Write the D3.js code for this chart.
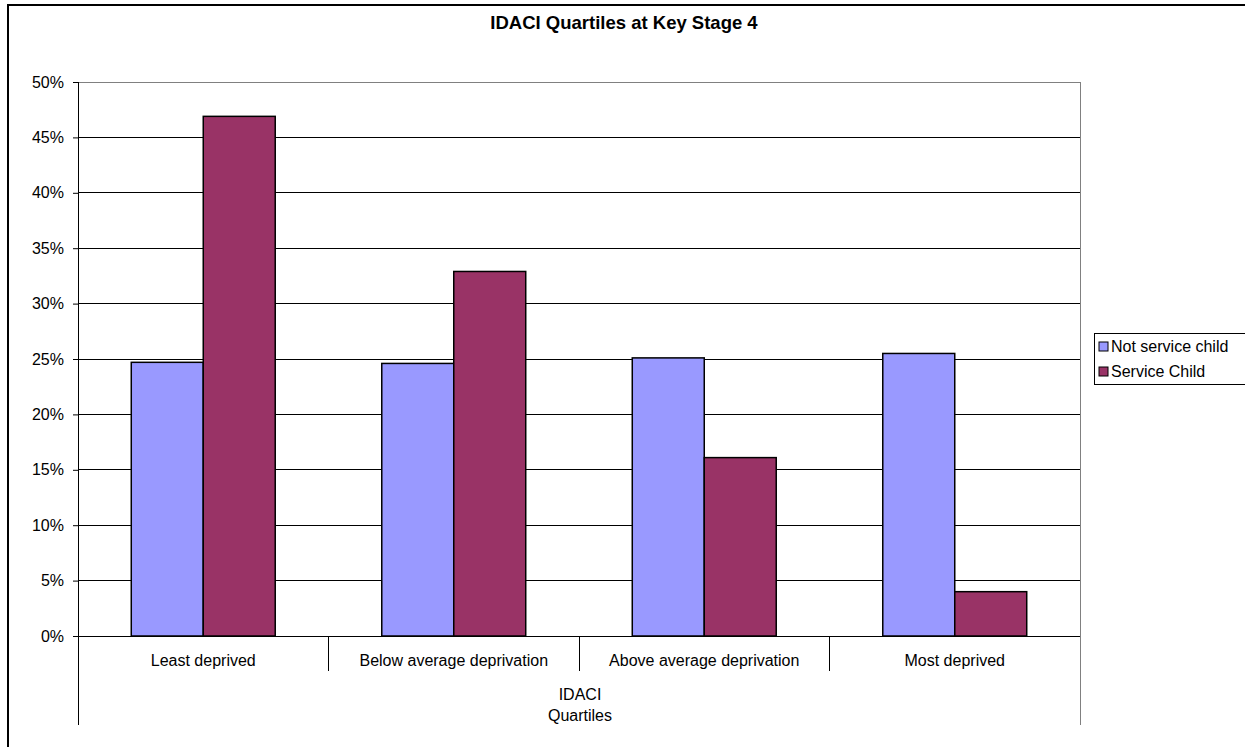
<!DOCTYPE html>
<html>
<head>
<meta charset="utf-8">
<script src="https://cdn.jsdelivr.net/npm/d3@7"></script>
<style>
  body { margin: 0; background: #fff; }
  text { font-family: "Liberation Sans", Arial, sans-serif; fill: #000; }
</style>
</head>
<body>
<div id="chart"></div>
<script>
const categories = ["Least deprived", "Below average deprivation", "Above average deprivation", "Most deprived"];
const seriesNames = ["Not service child", "Service Child"];
const notService = [24.7, 24.6, 25.1, 25.5];
const service = [46.9, 32.9, 16.1, 4.0];
const yTicks = [0, 5, 10, 15, 20, 25, 30, 35, 40, 45, 50];
const colors = ["#9999ff", "#993366"];

const width = 1245, height = 747;
const plot = { left: 78, right: 1080, top: 82, bottom: 636 };

const svg = d3.select("#chart").append("svg")
    .attr("width", width)
    .attr("height", height);

// outer chart frame (runs off the picture at right and bottom)
svg.append("rect")
    .attr("x", 8).attr("y", 5)
    .attr("width", 1300).attr("height", 800)
    .attr("fill", "none")
    .attr("stroke", "#000")
    .attr("stroke-width", 2);

svg.append("text")
    .attr("x", 624).attr("y", 29)
    .attr("text-anchor", "middle")
    .style("font-size", "18.5px")
    .style("font-weight", "bold")
    .text("IDACI Quartiles at Key Stage 4");

const x = d3.scaleBand()
    .domain(categories)
    .range([plot.left, plot.right]);

const x1 = d3.scaleBand()
    .domain(seriesNames)
    .range([0, x.bandwidth()])
    .paddingOuter(0.74)
    .paddingInner(0);

const y = d3.scaleLinear()
    .domain([0, 50])
    .range([plot.bottom, plot.top]);

// gridlines
svg.append("g")
    .selectAll("line")
    .data(yTicks.filter(d => d > 0))
    .join("line")
    .attr("x1", plot.left).attr("x2", plot.right)
    .attr("y1", d => y(d)).attr("y2", d => y(d))
    .attr("stroke", "#000")
    .attr("stroke-width", 1)
    .attr("shape-rendering", "crispEdges");

// plot area border top/right (gray)
svg.append("path")
    .attr("d", `M${plot.left},${plot.top}H${plot.right}V725`)
    .attr("fill", "none")
    .attr("stroke", "#808080")
    .attr("shape-rendering", "crispEdges");

// bars
const data = categories.map((c, i) => ({ cat: c, values: [notService[i], service[i]] }));
const groups = svg.append("g")
    .selectAll("g")
    .data(data)
    .join("g")
    .attr("transform", d => `translate(${x(d.cat)},0)`);

groups.selectAll("rect")
    .data(d => d.values.map((v, j) => ({ name: seriesNames[j], value: v, j })))
    .join("rect")
    .attr("x", d => x1(d.name))
    .attr("y", d => y(d.value))
    .attr("width", x1.bandwidth())
    .attr("height", d => y(0) - y(d.value))
    .attr("fill", d => colors[d.j])
    .attr("stroke", "#000")
    .attr("stroke-width", 1.5);

// y axis
const yAxis = svg.append("g")
    .attr("transform", `translate(${plot.left},0)`)
    .call(d3.axisLeft(y).tickValues(yTicks).tickSize(5).tickFormat(d => d + "%"));
yAxis.select(".domain").remove();
yAxis.selectAll(".tick line").attr("stroke", "#000");
yAxis.selectAll(".tick text")
    .attr("x", -14)
    .style("font-size", "16px")
    .style("font-family", "Liberation Sans, Arial, sans-serif");

svg.append("line")
    .attr("x1", plot.left).attr("x2", plot.left)
    .attr("y1", plot.top).attr("y2", 725)
    .attr("stroke", "#000")
    .attr("shape-rendering", "crispEdges");

// x axis line and category separators
svg.append("line")
    .attr("x1", plot.left).attr("x2", plot.right)
    .attr("y1", plot.bottom).attr("y2", plot.bottom)
    .attr("stroke", "#000")
    .attr("shape-rendering", "crispEdges");

svg.append("g")
    .selectAll("line")
    .data(categories.slice(1))
    .join("line")
    .attr("x1", d => x(d)).attr("x2", d => x(d))
    .attr("y1", plot.bottom).attr("y2", 671)
    .attr("stroke", "#000")
    .attr("shape-rendering", "crispEdges");

svg.append("g")
    .selectAll("text")
    .data(categories)
    .join("text")
    .attr("x", d => x(d) + x.bandwidth() / 2)
    .attr("y", 666)
    .attr("text-anchor", "middle")
    .style("font-size", "16px")
    .text(d => d);

svg.append("text")
    .attr("x", 580).attr("y", 700)
    .attr("text-anchor", "middle")
    .style("font-size", "16px")
    .text("IDACI");
svg.append("text")
    .attr("x", 580).attr("y", 721)
    .attr("text-anchor", "middle")
    .style("font-size", "16px")
    .text("Quartiles");

// legend
const legend = svg.append("g");
legend.append("rect")
    .attr("x", 1094).attr("y", 333)
    .attr("width", 200).attr("height", 51)
    .attr("fill", "#fff")
    .attr("stroke", "#000")
    .attr("stroke-width", 1)
    .attr("shape-rendering", "crispEdges");

const items = legend.selectAll("g.item")
    .data(seriesNames)
    .join("g")
    .attr("class", "item")
    .attr("transform", (d, i) => `translate(1099,${342 + i * 25})`);

items.append("rect")
    .attr("width", 9).attr("height", 9)
    .attr("fill", (d, i) => colors[i])
    .attr("stroke", "#000")
    .attr("stroke-width", 1);

items.append("text")
    .attr("x", 12).attr("y", 10)
    .style("font-size", "16px")
    .text(d => d);
</script>
</body>
</html>
